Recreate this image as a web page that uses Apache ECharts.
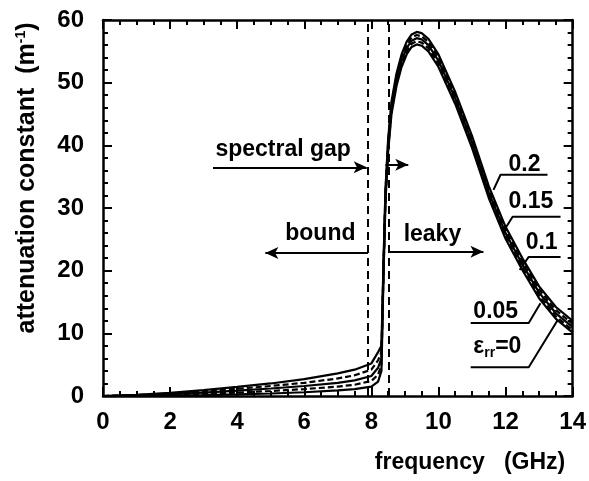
<!DOCTYPE html>
<html>
<head>
<meta charset="utf-8">
<script src="https://cdn.jsdelivr.net/npm/echarts@6/dist/echarts.min.js"></script>
<style>
html, body { margin: 0; background: #fff; }
#main { width: 589px; height: 481px; }
</style>
</head>
<body>
<div id="main"></div>
<script>
// frequency points (GHz)
var freq = [0, 1, 2, 3, 4, 5, 6, 7, 7.5, 8, 8.2, 8.3,
            8.36, 8.42, 8.5, 8.6, 8.75, 8.9, 9.05, 9.2, 9.35, 9.5, 9.7,
            10, 10.5, 11, 11.5, 12, 12.5, 13, 13.5, 14];

// attenuation constant (1/m) for each loss value
var eps0   = [0, 0, 0.1, 0.15, 0.25, 0.4, 0.6, 0.9, 1.1, 1.5, 2.3, 4,
              19, 31, 39, 45, 49.5, 52.5, 54.5, 55.7, 56.1, 55.9, 55,
              52.5, 46.6, 39.6, 31.6, 25.1, 20.1, 15.6, 12.3, 10.1];
var eps005 = [0, 0.05, 0.2, 0.35, 0.55, 0.8, 1.1, 1.5, 1.8, 2.4, 3.4, 5,
              19.5, 31.5, 39.5, 45.5, 50, 53, 55, 56.2, 56.6, 56.4, 55.5,
              53, 47, 40, 32, 25.5, 20.5, 16, 12.7, 10.5];
var eps01  = [0, 0.1, 0.3, 0.55, 0.85, 1.2, 1.6, 2.1, 2.5, 3.2, 4.5, 6,
              20, 32, 40, 46, 50.5, 53.5, 55.5, 56.7, 57.1, 56.9, 56,
              53.5, 47.5, 40.5, 32.5, 26, 21, 16.5, 13.2, 11];
var eps015 = [0, 0.15, 0.4, 0.75, 1.15, 1.6, 2.1, 2.8, 3.3, 4.2, 5.7, 7,
              20.5, 32.5, 40.5, 46.5, 51, 54, 56, 57.2, 57.6, 57.4, 56.5,
              54, 48, 41, 33, 26.5, 21.5, 17, 13.7, 11.5];
var eps02  = [0, 0.2, 0.5, 0.95, 1.45, 2.0, 2.7, 3.6, 4.2, 5.2, 7, 8,
              21, 33, 41, 47, 51.5, 54.5, 56.5, 57.7, 58.1, 57.9, 57,
              54.5, 48.5, 41.5, 33.5, 27, 22, 17.5, 14.2, 12];

var curves = [eps0, eps005, eps01, eps015, eps02];
var curveDash = ['solid', [6, 3], 'solid', [6, 3], 'solid'];

// spectral gap boundaries (GHz)
var gapEdges = [7.88, 8.51];

// arrows: [x1, y1, x2, y2] (head at the second point)
var arrows = [
  [3.28, 36.5, 7.86, 36.5],
  [8.42, 36.9, 9.1, 36.9],
  [7.9, 22.8, 4.84, 22.8],
  [8.53, 23, 11.34, 23]
];

// leader lines for the curve labels
var leaders = [
  [[13.25, 35.3], [11.85, 35.3], [11.64, 32.9]],
  [[13.64, 28.6], [12.21, 28.6], [12.0, 26.8]],
  [[13.64, 22.2], [12.69, 22.2], [12.42, 20.1]],
  [[10.96, 11.65], [12.69, 11.65], [13.04, 14.8]],
  [[10.96, 4.6], [12.69, 4.6], [13.55, 12.1]]
];

// text notes: [x, y, text, align]
var notes = [
  [5.37, 39.25, 'spectral gap', 'center'],
  [6.48, 25.85, 'bound', 'center'],
  [9.82, 25.7, 'leaky', 'center'],
  [12.09, 36.9, '0.2', 'left'],
  [12.09, 31.0, '0.15', 'left'],
  [12.6, 24.4, '0.1', 'left'],
  [11.04, 13.4, '0.05', 'left'],
  [11.04, 7.8, '{e|ε}{s|rr}{e|=0}', 'left']
];

var FONT = '"Liberation Sans", Arial, sans-serif';

var myChart = echarts.init(document.getElementById('main'));

function axisStyle(pos, isX, showLabel) {
  return {
    type: 'value',
    position: pos,
    min: 0,
    max: isX ? 14 : 60,
    interval: isX ? 2 : 10,
    axisLine: { onZero: false, lineStyle: { color: '#000', width: 2.5 } },
    axisTick: { inside: true, length: 9, lineStyle: { color: '#000', width: 2 } },
    minorTick: { show: true, splitNumber: isX ? 4 : 5, length: 5, lineStyle: { color: '#000', width: 2 } },
    splitLine: { show: false },
    axisLabel: {
      show: showLabel,
      margin: isX ? 14 : 19,
      color: '#000',
      fontSize: 24,
      fontWeight: 'bold',
      fontFamily: FONT
    }
  };
}

var series = curves.map(function (vals, i) {
  return {
    type: 'line',
    data: freq.map(function (f, j) { return [f, vals[j]]; }),
    showSymbol: false,
    lineStyle: { color: '#000', width: 2.2, type: curveDash[i] },
    z: 3
  };
});

// gap lines and arrows
series.push({
  type: 'line',
  data: [],
  markLine: {
    silent: true,
    symbol: 'none',
    label: { show: false },
    lineStyle: { color: '#000', width: 2, type: [8, 5] },
    data: gapEdges.map(function (g) { return { xAxis: g }; })
  }
});
series.push({
  type: 'line',
  data: [],
  markLine: {
    silent: true,
    symbolSize: [9, 13],
    label: { show: false },
    lineStyle: { color: '#000', width: 2, type: 'solid' },
    data: arrows.map(function (a) {
      return [
        { coord: [a[0], a[1]], symbol: 'none' },
        { coord: [a[2], a[3]], symbol: 'arrow' }
      ];
    })
  }
});

leaders.forEach(function (pts) {
  series.push({
    type: 'line',
    data: pts,
    showSymbol: false,
    lineStyle: { color: '#000', width: 2 },
    z: 4
  });
});

var graphics = [
  {
    type: 'text',
    x: 27,
    y: 178,
    rotation: Math.PI / 2,
    style: {
      text: 'attenuation constant  (m{sup|-1})',
      fill: '#000',
      font: 'bold 25px ' + FONT,
      align: 'center',
      verticalAlign: 'middle',
      rich: {
        sup: { fontSize: 14, fontWeight: 'bold', fontFamily: FONT, fill: '#000', padding: [0, 0, 12, 0] }
      }
    }
  },
  {
    type: 'text',
    x: 470,
    y: 463,
    style: {
      text: 'frequency   (GHz)',
      fill: '#000',
      font: 'bold 23px ' + FONT,
      align: 'center',
      verticalAlign: 'middle'
    }
  }
];

var option = {
  animation: false,
  backgroundColor: '#fff',
  grid: { left: 103, right: 16, top: 20, bottom: 85 },
  xAxis: [axisStyle('bottom', true, true), axisStyle('top', true, false)],
  yAxis: [axisStyle('left', false, true), axisStyle('right', false, false)],
  series: series
};

myChart.setOption(option);

// place the text notes through the axis scales
notes.forEach(function (n) {
  var p = myChart.convertToPixel({ xAxisIndex: 0, yAxisIndex: 0 }, [n[0], n[1]]);
  graphics.push({
    type: 'text',
    x: p[0],
    y: p[1],
    z: 10,
    style: {
      text: n[2],
      fill: '#000',
      font: 'bold 23px ' + FONT,
      align: n[3],
      verticalAlign: 'middle',
      rich: {
        e: { fontSize: 23, fontWeight: 'bold', fontFamily: FONT, fill: '#000' },
        s: { fontSize: 14, fontWeight: 'bold', fontFamily: FONT, fill: '#000', padding: [12, 0, 0, 0] }
      }
    }
  });
});

myChart.setOption({ graphic: graphics });
</script>
</body>
</html>
